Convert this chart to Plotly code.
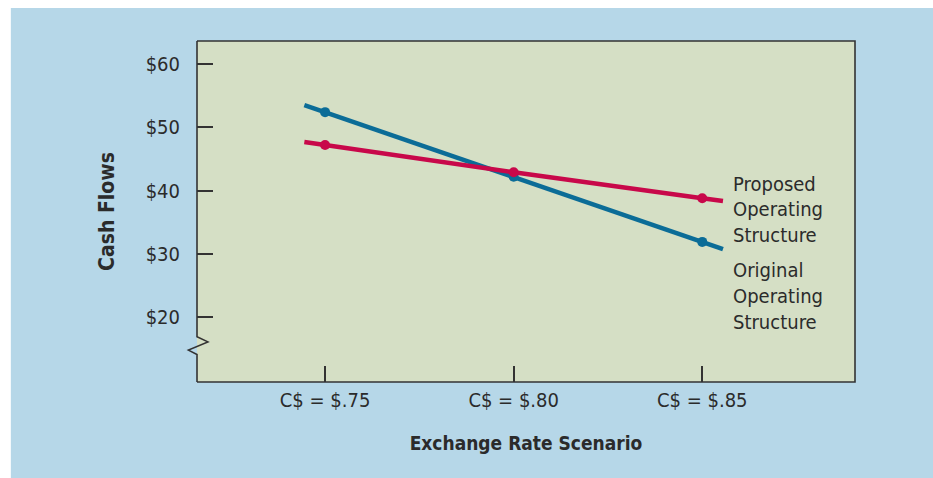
import plotly.graph_objects as go

# exchange rate scenarios (US$ per C$) and cash flows
rates = [0.75, 0.80, 0.85]
rate_labels = ["C$ = $.75", "C$ = $.80", "C$ = $.85"]
original_cf = [52.4, 42.2, 31.9]
proposed_cf = [47.2, 42.9, 38.8]
y_ticks = [20, 30, 40, 50, 60]
y_tick_labels = ["$20", "$30", "$40", "$50", "$60"]

BLUE = "#0b6c97"
RED = "#c8084a"
FONT = "DejaVu Sans Condensed, Liberation Sans Narrow, sans-serif"
TXT = "#2b2b2b"


def extended(xs, ys, frac=0.11):
    # the drawn line runs a little past the first and last point
    dx0 = (xs[1] - xs[0]) * frac
    dx1 = (xs[-1] - xs[-2]) * frac
    s0 = (ys[1] - ys[0]) / (xs[1] - xs[0])
    s1 = (ys[-1] - ys[-2]) / (xs[-1] - xs[-2])
    ex = [xs[0] - dx0] + list(xs) + [xs[-1] + dx1]
    ey = [ys[0] - s0 * dx0] + list(ys) + [ys[-1] + s1 * dx1]
    return ex, ey


fig = go.Figure()

for ys, color, name in [(original_cf, BLUE, "Original"), (proposed_cf, RED, "Proposed")]:
    ex, ey = extended(rates, ys)
    fig.add_trace(go.Scatter(x=ex, y=ey, mode="lines", line=dict(color=color, width=4.5),
                             showlegend=False, hoverinfo="skip"))
    fig.add_trace(go.Scatter(x=rates, y=ys, mode="markers", marker=dict(color=color, size=10),
                             name=name, showlegend=False))

# end-of-line labels
label_x = 0.8576
for lines, y0 in [(["Proposed", "Operating", "Structure"], 41.1),
                  (["Original", "Operating", "Structure"], 27.4)]:
    for i, t in enumerate(lines):
        fig.add_annotation(x=label_x, y=y0 - i * 4.05, text=t, showarrow=False, xanchor="left",
                           yanchor="middle", font=dict(family=FONT, size=20, color=TXT))

# white page strips above and left of the blue panel
fig.add_shape(type="rect", xref="paper", yref="paper", x0=-0.4, x1=1.3, y0=1.0968, y1=1.3,
              fillcolor="white", line=dict(width=0), layer="below")
fig.add_shape(type="rect", xref="paper", yref="paper", x0=-0.4, x1=-0.2829, y0=-0.5, y1=1.5,
              fillcolor="white", line=dict(width=0), layer="below")
# plot frame with axis break on the left
frame = dict(color="#333333", width=1.6)
fig.add_shape(type="path", xref="paper", yref="paper",
              path="M 0,1 L 1,1 L 1,0 L 0,0", line=frame, layer="above")
fig.add_shape(type="path", xref="x domain", yref="y",
              path="M 0,63.64 L 0,16.9 L 0.0165,16.1 L -0.013,14.8 L 0,14.1 L 0,9.76",
              line=frame, layer="above")

fig.update_xaxes(range=[0.71604, 0.8905], tickvals=rates, ticktext=rate_labels,
                 ticks="inside", ticklen=16, tickwidth=1.6, tickcolor="#333333",
                 ticklabelstandoff=4,
                 showgrid=False, zeroline=False, showline=False,
                 tickfont=dict(family=FONT, size=20, color=TXT),
                 title=dict(text="<b>Exchange Rate Scenario</b>", standoff=25,
                            font=dict(family=FONT, size=19, color=TXT)))
fig.update_yaxes(range=[9.76, 63.64], tickvals=y_ticks, ticktext=y_tick_labels,
                 ticks="inside", ticklen=16, tickwidth=1.6, tickcolor="#333333",
                 ticklabelstandoff=16,
                 showgrid=False, zeroline=False, showline=False,
                 tickfont=dict(family=FONT, size=20, color=TXT),
                 title=dict(text="<b>Cash Flows</b>", standoff=25,
                            font=dict(family=FONT, size=21, color=TXT)))

fig.update_layout(
    width=933, height=478, autosize=False,
    paper_bgcolor="#b6d7e8", plot_bgcolor="#d5dfc5",
    margin=dict(l=197, r=78, t=41, b=96),
    showlegend=False,
)

# page body margin off so the figure fills the window
fig.write_html("out.html", config={"displayModeBar": False},
               post_script="document.body.style.margin='0';")
